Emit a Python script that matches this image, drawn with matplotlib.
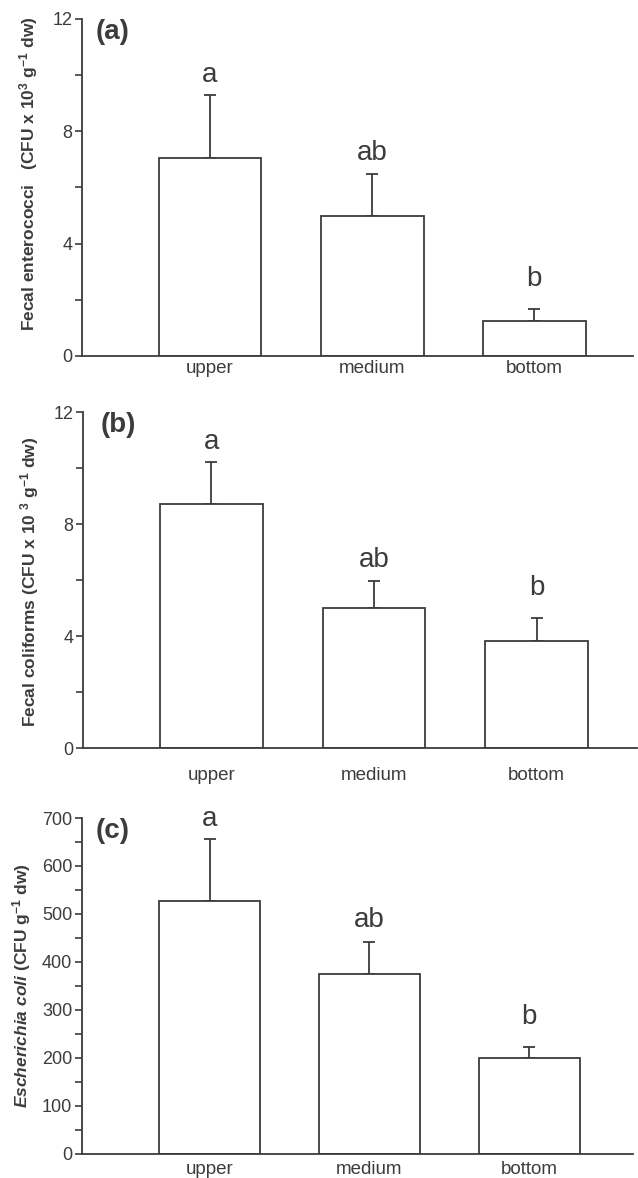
import numpy as np
import matplotlib
matplotlib.use("Agg")
import matplotlib.pyplot as plt
from matplotlib.ticker import MultipleLocator

plt.rcParams['font.family'] = ['Liberation Sans', 'DejaVu Sans']
plt.rcParams['mathtext.fontset'] = 'custom'
plt.rcParams['mathtext.default'] = 'regular'
plt.rcParams['mathtext.it'] = 'Liberation Sans:italic:bold'

# data
categories = ['upper', 'medium', 'bottom']

enterococci = [7.05, 4.99, 1.25]
enterococci_err = [2.24, 1.49, 0.42]

coliforms = [8.71, 5.00, 3.82]
coliforms_err = [1.50, 0.96, 0.82]

ecoli = [527, 375, 200]
ecoli_err = [129, 67, 23]

letters = ['a', 'ab', 'b']

INK = '#3c3c3c'

panels = [
    dict(vals=enterococci, err=enterococci_err, tag='(a)', ymax=12, major=4, minor=2,
         ylabel='Fecal enterococci   (CFU x 10$^{3}$ g$^{-1}$ dw)',
         rect=[0.1285, 0.6978, 0.8636, 0.2861], xlim=(-0.79, 2.61), width=0.635,
         label_xy=(-0.097, 0.54), xpad=3, tag_x=0.024),
    dict(vals=coliforms, err=coliforms_err, tag='(b)', ymax=12, major=4, minor=2,
         ylabel='Fecal coliforms (CFU x 10 $^{3}$ g$^{-1}$ dw)',
         rect=[0.1300, 0.3650, 0.8690, 0.2852], xlim=(-0.79, 2.62), width=0.63,
         label_xy=(-0.096, 0.494), xpad=14, tag_x=0.031),
    dict(vals=ecoli, err=ecoli_err, tag='(c)', ymax=700, major=100, minor=50,
         ylabel='$\\mathit{Escherichia\\ coli}$ (CFU g$^{-1}$ dw)',
         rect=[0.1285, 0.0204, 0.8636, 0.2852], xlim=(-0.80, 2.65), width=0.633,
         label_xy=(-0.109, 0.50), xpad=5, tag_x=0.024),
]

# how far above the error bar each letter sits (points)
letter_offsets = [5, 6, 12]

fig = plt.figure(figsize=(6.38, 11.78), dpi=100)

for p in panels:
    ax = fig.add_axes(p['rect'])
    x = np.arange(len(categories))
    vals = np.array(p['vals'])
    err = np.array(p['err'])

    ax.bar(x, vals, width=p['width'], color='white', edgecolor=INK, linewidth=1.3, zorder=2)
    ax.errorbar(x, vals, yerr=[np.zeros_like(err), err], fmt='none', ecolor=INK,
                elinewidth=1.3, capsize=4, capthick=1.3, zorder=1)

    for xi, top, let, off in zip(x, vals + err, letters, letter_offsets):
        ax.annotate(let, (xi, top), xytext=(0, off), textcoords='offset points',
                    ha='center', va='bottom', fontsize=20, color=INK)

    ax.set_xlim(*p['xlim'])
    ax.set_ylim(0, p['ymax'])
    ax.set_xticks(x)
    ax.set_xticklabels(categories, fontsize=13.5, color=INK)
    ax.tick_params(axis='x', length=0, pad=p['xpad'])
    ax.yaxis.set_major_locator(MultipleLocator(p['major']))
    ax.yaxis.set_minor_locator(MultipleLocator(p['minor']))
    ax.tick_params(axis='y', which='both', direction='out', length=5, width=1.2,
                   color=INK, labelsize=13, labelcolor=INK, pad=2)

    for side in ['top', 'right']:
        ax.spines[side].set_visible(False)
    for side in ['left', 'bottom']:
        ax.spines[side].set_color(INK)
        ax.spines[side].set_linewidth(1.3)

    ax.set_ylabel(p['ylabel'], fontsize=12.5, fontweight='bold', color=INK, va='center')
    ax.yaxis.set_label_coords(*p['label_xy'])

    ax.text(p['tag_x'], 1.0, p['tag'], transform=ax.transAxes, ha='left', va='top',
            fontsize=20, fontweight='bold', color=INK)

fig.savefig('out.png', dpi=100)
